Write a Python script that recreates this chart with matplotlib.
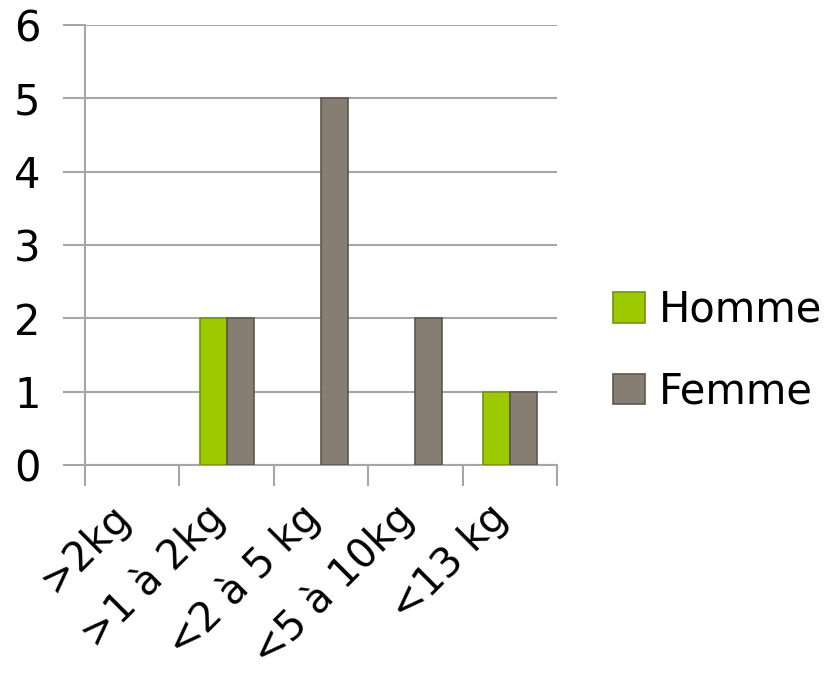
import numpy as np
import matplotlib.pyplot as plt
import matplotlib.transforms as mtransforms

# data
categories = ['>2kg', '>1 à 2kg', '<2 à 5 kg', '<5 à 10kg', '<13 kg']
homme = [0, 2, 0, 0, 1]
femme = [0, 2, 5, 2, 1]

green = '#9cc900'
taupe = '#867e72'
grid_col = '#a6a6a6'

plt.rcParams['font.family'] = ['DejaVu Sans']

fig = plt.figure(figsize=(8.39, 6.78), dpi=100)
ax = fig.add_axes([0.1013, 0.3142, 0.5626, 0.649])

x = np.arange(len(categories))
w = 0.286
h = np.array(homme, dtype=float)
f = np.array(femme, dtype=float)
# zero counts draw nothing
hm = h > 0
fm = f > 0
ax.bar(x[hm] - w / 2, h[hm], w, color=green, edgecolor='#74940a', linewidth=1.2, label='Homme', zorder=3)
ax.bar(x[fm] + w / 2, f[fm], w, color=taupe, edgecolor='#5e574e', linewidth=1.2, label='Femme', zorder=3)

ax.set_xlim(-0.5, len(categories) - 0.5)
ax.set_ylim(0, 6)
ax.set_yticks(range(7))
ax.yaxis.grid(True, color=grid_col, linewidth=1.5, zorder=0)
ax.set_axisbelow(True)

for s in ['top', 'right']:
    ax.spines[s].set_visible(False)
for s in ['left', 'bottom']:
    ax.spines[s].set_color(grid_col)
    ax.spines[s].set_linewidth(1.5)

# tick marks at the category borders, labels at the centres
ax.set_xticks(np.arange(-0.5, len(categories)), minor=True)
ax.set_xticks(x)
ax.set_xticklabels(categories, rotation=45, ha='right', va='center',
                   rotation_mode='anchor', fontsize=29)
ax.tick_params(axis='x', which='major', length=0, pad=33)
ax.tick_params(axis='x', which='minor', length=15, width=1.5, color=grid_col)
ax.tick_params(axis='y', length=16, width=1.5, color=grid_col, labelsize=30, pad=16)

# nudge the slanted labels a bit to the left
shift = mtransforms.ScaledTranslation(-0.08, 0, fig.dpi_scale_trans)
for lab in ax.get_xticklabels():
    lab.set_transform(lab.get_transform() + shift)

ax.legend(loc='center left', bbox_to_anchor=(1.04, 0.26), frameon=False, fontsize=30,
          handlelength=0.75, handleheight=0.75, handletextpad=0.35, labelspacing=0.95)

fig.savefig('out.png', dpi=100)
